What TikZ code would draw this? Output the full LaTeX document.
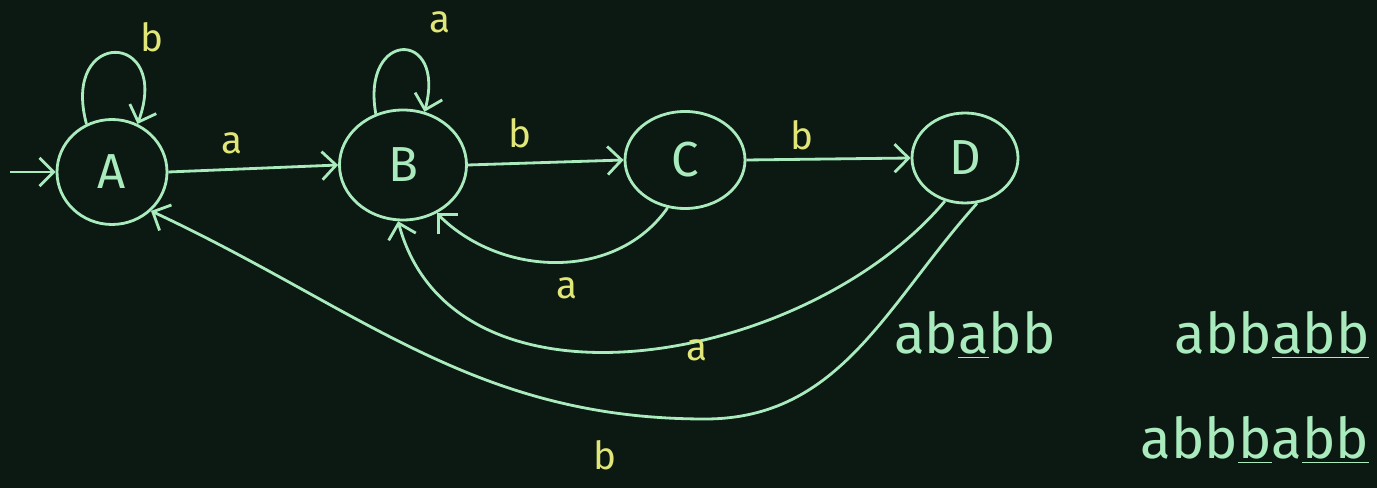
\documentclass[tikz,border=0pt]{standalone}
\usepackage{fontspec}
\setmainfont{Fira Sans}
\definecolor{chalkbg}{RGB}{12,24,18}
\definecolor{chalkgreen}{RGB}{170,235,190}
\definecolor{chalkyellow}{RGB}{225,230,120}
\usetikzlibrary{arrows.meta,positioning,shapes.geometric}

\begin{document}
\begin{tikzpicture}[
    state/.style={ellipse, draw=chalkgreen, line width=1.6pt, text=chalkgreen,
                  font=\fontsize{28}{32}\selectfont, inner sep=0pt},
    edge/.style={draw=chalkgreen, line width=1.6pt,
                 -{Straight Barb[length=8pt,width=16pt]}},
    lbl/.style={text=chalkyellow, font=\fontsize{22}{26}\selectfont},
    word/.style={text=chalkgreen, font=\fontsize{32}{36}\selectfont}
  ]
    % Board
    \fill[chalkbg] (0,0) rectangle (27.54,9.76);
    \useasboundingbox (0,0) rectangle (27.54,9.76);
    % States
    \node[state, minimum width=2.2cm, minimum height=2.1cm] (A) at (2.24, 6.32) {A};
    \node[state, minimum width=2.54cm, minimum height=2.2cm] (B) at (8.06, 6.46) {B};
    \node[state, minimum width=2.4cm, minimum height=1.94cm] (C) at (13.7, 6.56) {C};
    \node[state, minimum width=2.12cm, minimum height=1.8cm] (D) at (19.3, 6.6) {D};
    % Start arrow
    \coordinate (start) at (0.2, 6.32);
    \draw[edge] (start) -- (A.west);
    % Forward transitions
    \draw[edge] (A.east) -- (B.west);
    \node[lbl] (ab) at (4.64, 6.9) {a};
    \draw[edge] (B.east) -- (C.west);
    \node[lbl] (bc) at (10.4, 7.1) {b};
    \draw[edge] (C.east) -- (D.west);
    \node[lbl] (cd) at (16.04, 7.06) {b};
    % Self loops
    \draw[edge] (A.118) to[out=105, in=70, looseness=5] (A.62);
    \node[lbl] (aa) at (3.04, 9.02) {b};
    \draw[edge] (B.118) to[out=100, in=75, looseness=4.5] (B.68);
    \node[lbl] (bb) at (8.8, 9.32) {a};
    % Back transitions
    \draw[edge] (C.250) to[out=-125, in=-45] (B.-55);
    \node[lbl] (cb) at (11.34, 4.0) {a};
    \draw[edge] (D.245) to[out=-130, in=-75] (B.-95);
    \node[lbl] (db) at (13.94, 2.76) {a};
    \coordinate (dabot) at (14.1, 1.38);
    \draw[edge] (D.-75) to[out=-132, in=0] (dabot) to[out=180, in=-25] (A.-45);
    \node[lbl] (da) at (12.1, 0.66) {b};
    % Sample strings
    \node[word] (w1) at (19.5, 3.06) {ab\underline{a}bb};
    \node[word] (w2) at (25.44, 3.06) {abb\underline{a}\underline{b}\underline{b}};
    \node[word] (w3) at (25.1, 0.96) {abb\underline{b}a\underline{bb}};
\end{tikzpicture}
\end{document}
